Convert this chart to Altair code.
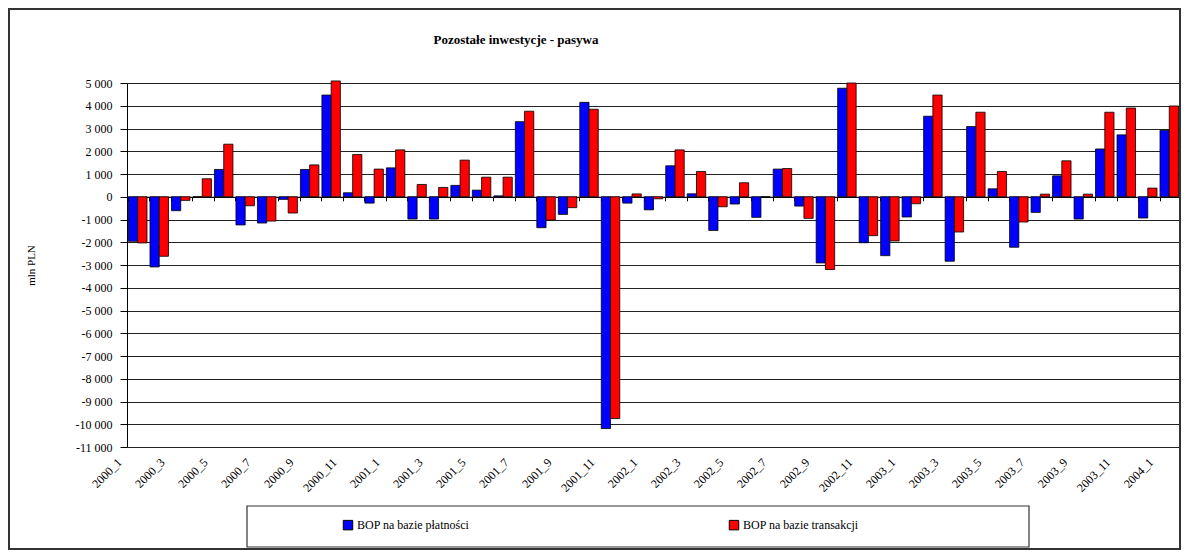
import altair as alt
import pandas as pd

years_months = [(y, m) for y in (2000, 2001, 2002, 2003) for m in range(1, 13)] + [(2004, 1)]
categories = [f"{y}_{m}" for y, m in years_months]
tick_labels = categories[::2]

series = ["BOP na bazie płatności", "BOP na bazie transakcji"]
title_text = "Pozostałe inwestycje  - pasywa"
y_ticks = list(range(-11000, 5001, 1000))

platnosci = [-1960, -3085, -614, 0, 1200, -1240, -1155, -115, 1200, 4470, 175, -280,
             1270, -980, -980, 500, 290, 40, 3300, -1360, -775, 4150, -10190, -280,
             -575, 1360, 130, -1480, -320, -905, 1215, -410, -2910, 4770, -2020, -2590,
             -890, 3540, -2835, 3085, 350, -2220, -687, 920, -980, 2100, 2720, -935,
             2920]
transakcji = [-2030, -2617, -160, 790, 2310, -395, -1070, -715, 1400, 5090, 1855, 1215,
              2060, 540, 410, 1610, 860, 860, 3760, -1025, -480, 3845, -9750, 125,
              -90, 2060, 1110, -440, 615, 0, 1240, -950, -3200, 5000, -1710, -1945,
              -307, 4470, -1550, 3715, 1110, -1110, 115, 1580, 115, 3715, 3900, 380,
              3990]

rows = []
for i, c in enumerate(categories):
    rows.append({"okres": c, "seria": series[0], "wartosc": platnosci[i]})
    rows.append({"okres": c, "seria": series[1], "wartosc": transakcji[i]})
df = pd.DataFrame(rows)

W, H = 1053, 364
PL, PT, PR, PB = 119, 75, 1, 103
FONT = "Liberation Serif"

yscale = alt.Scale(domain=[-11000, 5000], nice=False, zero=False)
xscale = alt.Scale(domain=categories, paddingInner=0.14, paddingOuter=0.07)

y_label_expr = "(datum.value < 0 ? '-' : '') + replace(format(abs(datum.value), ','), ',', ' ')"

bars = alt.Chart(df).mark_bar(stroke="black", strokeWidth=0.8).encode(
    x=alt.X("okres:N", sort=categories, scale=xscale, title=None,
            axis=alt.Axis(orient="bottom", values=tick_labels, labelAngle=-45,
                          labelAlign="right", labelBaseline="middle",
                          labelOffset=-18, labelPadding=13, labelFontSize=12,
                          labelFont=FONT, labelColor="black", ticks=False,
                          domain=False, grid=False, labelOverlap=False)),
    xOffset=alt.XOffset("seria:N", sort=series, scale=alt.Scale(paddingInner=0, paddingOuter=0)),
    y=alt.Y("wartosc:Q", scale=yscale, title="mln PLN",
            axis=alt.Axis(values=y_ticks, labelExpr=y_label_expr,
                          labelFont=FONT, labelFontSize=12, labelColor="black",
                          labelOverlap=False,
                          tickSize=7, tickColor="black", domainColor="black",
                          labelPadding=8, grid=True, gridColor="#222", gridWidth=1,
                          titleFont=FONT, titleFontSize=11, titleFontWeight="normal",
                          titleColor="black", titleAngle=-90, titleX=-96, titleY=H / 2,
                          titleAlign="center", titleBaseline="middle")),
    color=alt.Color("seria:N", sort=series,
                    scale=alt.Scale(domain=series, range=["#0000ff", "#ff0000"]),
                    legend=alt.Legend(title=None, orient="none", legendX=215, legendY=436,
                                      direction="horizontal", columns=2, columnPadding=257,
                                      symbolType="square", symbolSize=90,
                                      symbolStrokeColor="black", symbolStrokeWidth=1,
                                      labelFont=FONT, labelFontSize=12, labelColor="black",
                                      labelOffset=3, padding=0)),
)

zero_axis = alt.Chart(df).mark_point(opacity=0).encode(
    x=alt.X("okres:N", sort=categories, scale=xscale, title=None,
            axis=alt.Axis(orient="bottom", offset=-(H * 11 / 16), labels=False,
                          ticks=True, tickSize=4, tickColor="black", bandPosition=0,
                          domain=True, domainColor="black", domainWidth=1.2,
                          grid=False, title=None)),
)

frame_df = pd.DataFrame({"k": [0]})
frame = alt.Chart(frame_df).mark_rect(fill="transparent", stroke="#333", strokeWidth=2).encode(
    x=alt.value(-PL + 1), x2=alt.value(W + PR - 1), y=alt.value(-PT + 1), y2=alt.value(H + PB - 1)
)
legend_box = alt.Chart(frame_df).mark_rect(fill="transparent", stroke="#333", strokeWidth=1.2).encode(
    x=alt.value(120), x2=alt.value(902), y=alt.value(423), y2=alt.value(464)
)
title = alt.Chart(frame_df).mark_text(text=title_text, font=FONT, fontSize=13, fontWeight="bold",
                                      color="black", align="center", baseline="middle").encode(
    x=alt.value(516 - 127), y=alt.value(40 - 83)
)

chart = alt.layer(bars, zero_axis, legend_box, frame, title).resolve_axis(x="independent").properties(
    width=W, height=H,
    autosize=alt.AutoSizeParams(type="none"),
    padding={"left": PL, "top": PT, "right": PR, "bottom": PB},
).configure_view(stroke="#888").configure(background="white")

chart.save("out.html", embed_options={"renderer": "svg", "actions": False})
